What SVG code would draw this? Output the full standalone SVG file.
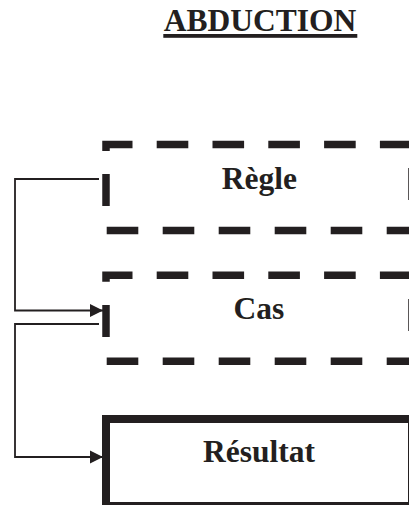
<svg xmlns="http://www.w3.org/2000/svg" width="409" height="505" viewBox="0 0 409 505">
  <defs>
    <style>
      .lbl { font-family: "Liberation Serif", "Times New Roman", serif; font-weight: bold; font-size: 31.5px; fill: #231f20; text-anchor: middle; }
      .dash { fill: none; stroke: #231f20; stroke-width: 7.5; stroke-linejoin: miter; }
      .hdash { fill: none; stroke: #231f20; stroke-width: 7.5; stroke-dasharray: 31.6 24.2; }
      .conn { fill: none; stroke: #231f20; stroke-width: 1.8; }
    </style>
    <marker id="arrow" markerUnits="userSpaceOnUse" markerWidth="14" markerHeight="14" refX="13" refY="7" orient="auto">
      <path d="M0,0.5 L13,7 L0,13.5 z" fill="#231f20"/>
    </marker>
  </defs>
  <rect width="409" height="505" fill="#ffffff"/>

  <g id="title">
    <text class="lbl" x="260" y="30.5">ABDUCTION</text>
    <rect x="163.3" y="34" width="194" height="3.8" fill="#231f20"/>
  </g>

  <g id="regle">
    <path class="dash" d="M106,151 V144.5 H132.5"/>
    <line class="hdash" x1="156.7" y1="144.5" x2="409" y2="144.5"/>
    <line class="hdash" x1="106.7" y1="230.5" x2="409" y2="230.5" style="stroke-dasharray:31.6 24.4"/>
    <line class="dash" x1="106" y1="174" x2="106" y2="206"/>
    <line class="dash" x1="412" y1="168" x2="412" y2="200"/>
    <text class="lbl" x="259.3" y="189">Règle</text>
  </g>

  <g id="cas">
    <path class="dash" d="M106,281.8 V275.3 H132.5"/>
    <line class="hdash" x1="156.7" y1="275.3" x2="409" y2="275.3"/>
    <line class="hdash" x1="106.7" y1="361.2" x2="409" y2="361.2" style="stroke-dasharray:31.6 24.4"/>
    <line class="dash" x1="106" y1="305" x2="106" y2="337"/>
    <line class="dash" x1="412" y1="299" x2="412" y2="331"/>
    <text class="lbl" x="259" y="319.3">Cas</text>
  </g>

  <g id="resultat">
    <rect x="106" y="419" width="306" height="87" fill="none" stroke="#231f20" stroke-width="8"/>
    <text class="lbl" x="259" y="461.7">Résultat</text>
  </g>

  <g id="connectors">
    <path class="conn" d="M99,179 H15 V310.5 H103" marker-end="url(#arrow)"/>
    <path class="conn" d="M99,324 H15 V457 H103" marker-end="url(#arrow)"/>
  </g>
</svg>
